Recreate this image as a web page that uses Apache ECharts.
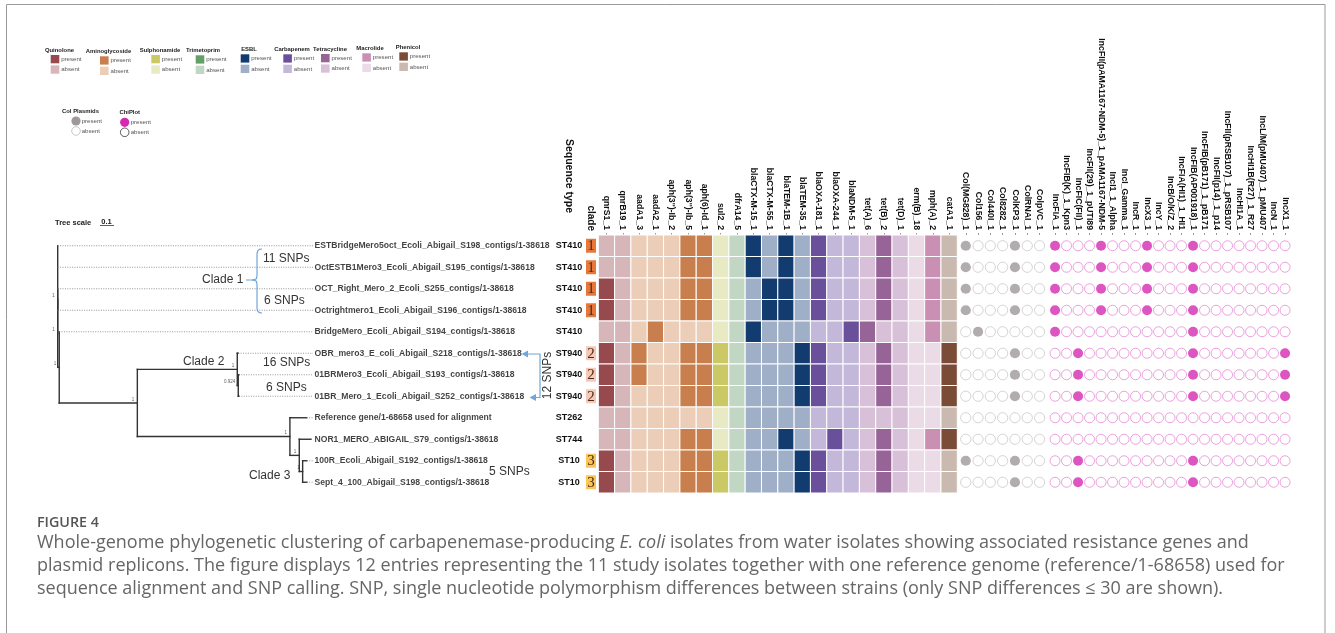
<!DOCTYPE html>
<html>
<head>
<meta charset="utf-8">
<script src="https://cdn.jsdelivr.net/npm/echarts@6/dist/echarts.min.js"></script>
<style>
  html, body { margin: 0; padding: 0; background: #fff; }
  #chart { width: 1335px; height: 633px; }
</style>
</head>
<body>
<div id="chart"></div>
<script>
// isolates, top to bottom as in the tree
const isolates = [
  "ESTBridgeMero5oct_Ecoli_Abigail_S198_contigs/1-38618",
  "OctESTB1Mero3_Ecoli_Abigail_S195_contigs/1-38618",
  "OCT_Right_Mero_2_Ecoli_S255_contigs/1-38618",
  "Octrightmero1_Ecoli_Abigail_S196_contigs/1-38618",
  "BridgeMero_Ecoli_Abigail_S194_contigs/1-38618",
  "OBR_mero3_E_coli_Abigail_S218_contigs/1-38618",
  "01BRMero3_Ecoli_Abigail_S193_contigs/1-38618",
  "01BR_Mero_1_Ecoli_Abigail_S252_contigs/1-38618",
  "Reference gene/1-68658 used for alignment",
  "NOR1_MERO_ABIGAIL_S79_contigs/1-38618",
  "100R_Ecoli_Abigail_S192_contigs/1-38618",
  "Sept_4_100_Abigail_S198_contigs/1-38618"
];
const seqTypes = ["ST410", "ST410", "ST410", "ST410", "ST410", "ST940", "ST940", "ST940", "ST262", "ST744", "ST10", "ST10"];
const clades = ["1", "1", "1", "1", "", "2", "2", "2", "", "", "3", "3"];
const cladeColors = { "1": "#e9773a", "2": "#f6c9b6", "3": "#fac65a" };

// tree: [id, depth, support, children] ; numbers in children are leaf rows
const treeNodes = [
  ["root", 0, "", [0, 1, "E"]],
  ["E", 0, "1", ["F", "D"]],
  ["F", 0, "1", [2, 3]],
  ["D", 0.011, "1", [4, "C"]],
  ["C", 0.569, "1", ["K2", "K3"]],
  ["K2", 1.283, "1", [5, "K2b"]],
  ["K2b", 1.29, "0.924", [6, 7]],
  ["K3", 1.659, "1", [8, "K3a"]],
  ["K3a", 1.726, "1", [9, "K3b"]],
  ["K3b", 1.75, "1", [10, 11]]
];
const leafDepth = [0, 0, 0, 0, 0.011, 1.29, 1.295, 1.295, 1.779, 1.81, 1.78, 1.78];
const alignDepth = 1.824;

const drugClasses = ["Quinolone", "Aminoglycoside", "Sulphonamide", "Trimetoprim", "ESBL", "Carbapenem", "Tetracycline", "Macrolide", "Phenicol"];
const presentColors = ["#974a4d", "#c97f4d", "#cbc866", "#62a068", "#123b70", "#6a509b", "#976497", "#c990b3", "#7a4b36"];
const absentColors = ["#d6b6b8", "#ebcdb8", "#e8eac4", "#c2d7c3", "#a0afc8", "#c3b8da", "#d8c1d8", "#eadbe6", "#c9b9af"];

const genes = ["qnrS1_1", "qnrB19_1", "aadA1_3", "aadA2_1", "aph(3'')-Ib_2", "aph(3'')-Ib_5", "aph(6)-Id_1", "sul2_2", "dfrA14_5",
  "blaCTX-M-15_1", "blaCTX-M-55_1", "blaTEM-1B_1", "blaTEM-35_1", "blaOXA-181_1", "blaOXA-244_1", "blaNDM-5_1",
  "tet(A)_6", "tet(B)_2", "tet(D)_1", "erm(B)_18", "mph(A)_2", "catA1_1"];
const geneClass = [0, 0, 1, 1, 1, 1, 1, 2, 3, 4, 4, 4, 4, 5, 5, 5, 6, 6, 6, 7, 7, 8];
const geneRows = [
  [0,0,0,0,0,1,1,0,0,1,0,1,0,1,0,0,0,1,0,0,1,0],
  [0,0,0,0,0,1,1,0,0,1,0,1,0,1,0,0,0,1,0,0,1,0],
  [1,0,0,0,0,1,1,0,0,0,1,1,0,1,0,0,0,1,0,0,1,0],
  [1,0,0,0,0,1,1,0,0,0,1,1,0,1,0,0,0,1,0,0,1,0],
  [0,0,0,1,0,0,0,0,0,1,0,0,0,0,0,1,1,0,0,0,1,0],
  [1,0,1,0,0,1,1,1,0,0,0,0,1,1,0,0,0,1,0,0,0,1],
  [1,0,1,0,0,1,1,1,0,0,0,0,1,1,0,0,0,1,0,0,0,1],
  [1,0,0,0,0,1,1,1,0,0,0,0,1,1,0,0,0,1,0,0,0,1],
  [0,0,0,0,0,0,0,0,0,0,0,0,0,0,0,0,0,0,0,0,0,0],
  [0,0,0,0,0,1,1,0,0,0,0,1,0,0,1,0,0,1,0,0,1,1],
  [1,0,0,0,0,1,1,1,0,0,0,0,1,1,0,0,0,1,0,0,0,0],
  [1,0,0,0,0,1,1,1,0,0,0,0,1,1,0,0,0,1,0,0,0,0]
];

const colPlasmids = ["Col(MG828)_1", "Col156_1", "Col440I_1", "Col8282_1", "ColKP3_1", "ColRNAI_1", "ColpVC_1"];
const colRows = [
  [1,0,0,0,1,0,0], [1,0,0,0,1,0,0], [1,0,0,0,1,0,0], [1,0,0,0,1,0,0],
  [0,1,0,0,0,0,0], [0,0,0,0,1,0,0], [0,0,0,0,1,0,0], [0,0,0,0,1,0,0],
  [0,0,0,0,0,0,0], [0,0,0,0,0,0,0], [1,0,0,0,1,0,0], [0,0,0,0,1,0,0]
];

const incPlasmids = ["IncFIA_1", "IncFIB(K)_1_Kpn3", "IncFIC(FII)_1", "IncFII(29)_1_pUTI89", "IncFII(pAMA1167-NDM-5)_1_pAMA1167-NDM-5",
  "IncI1_1_Alpha", "IncI_Gamma_1", "IncR_1", "IncX3_1", "IncY_1", "IncB/O/K/Z_2", "IncFIA(HI1)_1_HI1", "IncFIB(AP001918)_1",
  "IncFIB(pB171)_1_pB171", "IncFII(p14)_1_p14", "IncFII(pRSB107)_1_pRSB107", "IncHI1A_1", "IncHI1B(R27)_1_R27",
  "IncL/M(pMU407)_1_pMU407", "IncN_1", "IncX1_1"];
// indices of replicons present per isolate
const incPresent = [[0, 4, 8, 12], [0, 4, 8, 12], [0, 4, 8, 12], [0, 4, 8, 12], [0, 12],
  [2, 12, 20], [2, 12, 20], [2, 12, 20], [], [], [2, 12], [2, 12]];

const rowIdx = isolates.map((d, i) => i);
const FONT = "Liberation Sans";

// ---- tree geometry ----
const nodeMap = {};
treeNodes.forEach(n => { nodeMap[n[0]] = n; });
const nodeY = {};
function yOf(c) {
  if (typeof c === "number") return c;
  if (nodeY[c] !== undefined) return nodeY[c];
  const ch = nodeMap[c][3];
  nodeY[c] = (yOf(ch[0]) + yOf(ch[ch.length - 1])) / 2;
  return nodeY[c];
}
function depthOf(c) { return typeof c === "number" ? leafDepth[c] : nodeMap[c][1]; }
const treeSegs = [];
treeNodes.forEach(n => {
  const ch = n[3];
  treeSegs.push([n[1], yOf(ch[0]), n[1], yOf(ch[ch.length - 1]), 0]);
  ch.forEach(c => treeSegs.push([n[1], yOf(c), depthOf(c), yOf(c), 0]));
});
leafDepth.forEach((d, i) => { if (d < alignDepth) treeSegs.push([d, i, alignDepth, i, 1]); });
const supportData = treeNodes.filter(n => n[2]).map(n => ({ value: [n[1], yOf(n[0])], support: n[2] }));

// ---- cells ----
const heatData = [];
geneRows.forEach((r, i) => r.forEach((v, j) => heatData.push([j, i, v])));
const colData = [];
colRows.forEach((r, i) => r.forEach((v, j) => colData.push({
  value: [j, i],
  itemStyle: v ? { color: "#9e9898", borderWidth: 0 } : { color: "#fff", borderColor: "#c9c9c9", borderWidth: 1 }
})));
const incData = [];
incPresent.forEach((p, i) => incPlasmids.forEach((n, j) => {
  const v = p.indexOf(j) >= 0;
  incData.push({
    value: [j, i],
    itemStyle: v ? { color: "#d42ab2", borderWidth: 0 } : { color: "#fff", borderColor: "#e68ad6", borderWidth: 1 }
  });
}));

// ---- layout ----
const TOP = 235, H = 258;
const grids = [
  { left: 57.7, top: TOP, width: 255.3, height: H },
  { left: 556, top: TOP, width: 25, height: H },
  { left: 586, top: TOP, width: 10, height: H },
  { left: 598.3, top: TOP, width: 359, height: H },
  { left: 959.6, top: TOP, width: 86.1, height: H },
  { left: 1049.3, top: TOP, width: 241.5, height: H }
];
function catAxis(gi, data, margin, size) {
  return {
    type: "category", gridIndex: gi, data: data, position: "top",
    axisLine: { show: false },
    axisTick: { show: true, alignWithLabel: true, length: 2, lineStyle: { color: "#999" } },
    axisLabel: { rotate: 90, interval: 0, margin: margin, fontFamily: FONT, fontWeight: "bold", fontSize: size || 8.7, color: "#111" }
  };
}
const rowAxis = gi => ({ type: "category", gridIndex: gi, data: rowIdx, inverse: true, show: false });

// legend graphics
const legX = [50.7, 100, 151.3, 195.7, 240.7, 283.3, 321, 362.3, 399.3];
const legY = [55, 56.3, 55, 55.3, 54.3, 54.3, 54, 53.3, 52.3];
const legHead = [59.5, 108.5, 160, 203, 249, 292, 330, 370, 408];
const graphics = [];
const small = (x, y, t) => ({ type: "text", x: x, y: y, style: { text: t, fontFamily: FONT, fontSize: 6.1, fill: "#555", verticalAlign: "middle" } });
const head = (x, y, t) => ({ type: "text", x: x, y: y, style: { text: t, fontFamily: FONT, fontWeight: "bold", fontSize: 5.9, fill: "#222", align: "center", verticalAlign: "middle" } });
drugClasses.forEach((c, i) => {
  graphics.push(head(legHead[i], legY[i] - 5, c));
  graphics.push({ type: "rect", shape: { x: legX[i], y: legY[i], width: 8.6, height: 8.3 }, style: { fill: presentColors[i] } });
  graphics.push({ type: "rect", shape: { x: legX[i], y: legY[i] + 10.4, width: 8.6, height: 8.3 }, style: { fill: absentColors[i] } });
  graphics.push(small(legX[i] + 10.5, legY[i] + 4.2, "present"));
  graphics.push(small(legX[i] + 10.5, legY[i] + 14.6, "absent"));
});
graphics.push(head(80.5, 111.7, "Col Plasmids"));
graphics.push({ type: "circle", shape: { cx: 76, cy: 121, r: 4.6 }, style: { fill: "#9e9898" } });
graphics.push({ type: "circle", shape: { cx: 76, cy: 131, r: 4.3 }, style: { fill: "#fff", stroke: "#bbb", lineWidth: 0.8 } });
graphics.push(small(81.7, 121, "present"));
graphics.push(small(81.7, 131, "absent"));
graphics.push(head(129.7, 112.7, "ChiPlot"));
graphics.push({ type: "circle", shape: { cx: 124.7, cy: 122.3, r: 4.6 }, style: { fill: "#d42ab2" } });
graphics.push({ type: "circle", shape: { cx: 124.7, cy: 132.3, r: 4.3 }, style: { fill: "#fff", stroke: "#333", lineWidth: 0.8 } });
graphics.push(small(130.7, 122.3, "present"));
graphics.push(small(130.7, 132.3, "absent"));

// tree scale
graphics.push({ type: "text", x: 55, y: 222.5, style: { text: "Tree scale", fontFamily: FONT, fontWeight: "bold", fontSize: 7.5, fill: "#222", verticalAlign: "middle" } });
graphics.push({ type: "text", x: 106.5, y: 221.5, style: { text: "0.1", fontFamily: FONT, fontWeight: "bold", fontSize: 7.5, fill: "#222", align: "center", verticalAlign: "middle" } });
graphics.push({ type: "line", shape: { x1: 100, y1: 225.5, x2: 114, y2: 225.5 }, style: { stroke: "#333", lineWidth: 0.8 } });

// annotations
const BLUE = "#6fa7da";
const note = (x, y, t) => ({ type: "text", x: x, y: y, style: { text: t, fontFamily: FONT, fontSize: 12, fill: "#333", verticalAlign: "middle" } });
graphics.push(note(202, 280, "Clade 1"));
graphics.push(note(263, 259, "11 SNPs"));
graphics.push(note(264, 301, "6 SNPs"));
graphics.push(note(183, 362, "Clade 2"));
graphics.push(note(263, 363, "16 SNPs"));
graphics.push(note(266, 387.5, "6 SNPs"));
graphics.push(note(249, 476, "Clade 3"));
graphics.push(note(489, 471.5, "5 SNPs"));
const blueLine = pts => ({ type: "polyline", shape: { points: pts }, style: { stroke: BLUE, fill: null, lineWidth: 1.2 } });
graphics.push(blueLine([[262, 249], [259.5, 249.4], [257.7, 250.8], [257, 253.5], [257, 276], [256.4, 278.6], [254.5, 279.7], [252, 280], [246, 280]]));
graphics.push(blueLine([[252, 280], [254.5, 280.3], [256.4, 281.4], [257, 284], [257, 308.5], [257.7, 311.2], [259.5, 312.6], [262, 313]]));
graphics.push(blueLine([[527, 354], [540, 354], [540, 397.5], [535, 397.5]]));
graphics.push({ type: "polygon", shape: { points: [[521.5, 354], [528, 350.5], [528, 357.5]] }, style: { fill: BLUE } });
graphics.push({ type: "polygon", shape: { points: [[529.5, 397.5], [536, 394], [536, 401]] }, style: { fill: BLUE } });
graphics.push({ type: "text", x: 548, y: 375.5, rotation: Math.PI / 2, style: { text: "12 SNPs", fontFamily: FONT, fontSize: 12, fill: "#333", align: "center", verticalAlign: "middle" } });

// caption
const CAP = "Open Sans";
graphics.push({ type: "text", x: 37, y: 523, style: { text: "FIGURE 4", fontFamily: CAP, fontWeight: 600, fontSize: 14.3, fill: "#555", verticalAlign: "middle" } });
const capRich = { a: { fontFamily: CAP, fontSize: 18, fill: "#666" }, i: { fontFamily: CAP, fontSize: 18, fontStyle: "italic", fill: "#666" } };
graphics.push({ type: "text", x: 37, y: 543, style: { text: "{a|Whole-genome phylogenetic clustering of carbapenemase-producing }{i|E. coli}{a| isolates from water isolates showing associated resistance genes and}", rich: capRich, verticalAlign: "middle" } });
graphics.push({ type: "text", x: 37, y: 566, style: { text: "{a|plasmid replicons. The figure displays 12 entries representing the 11 study isolates together with one reference genome (reference/1-68658) used for}", rich: capRich, verticalAlign: "middle" } });
graphics.push({ type: "text", x: 37, y: 589, style: { text: "{a|sequence alignment and SNP calling. SNP, single nucleotide polymorphism differences between strains (only SNP differences \u2264 30 are shown).}", rich: capRich, verticalAlign: "middle" } });
// frame
graphics.push({ type: "rect", shape: { x: 6.5, y: 4.5, width: 1318.5, height: 640 }, style: { fill: null, stroke: "#9a9a9a", lineWidth: 1 } });

const chart = echarts.init(document.getElementById("chart"));
chart.setOption({
  animation: false,
  backgroundColor: "#fff",
  grid: grids,
  xAxis: [
    { type: "value", gridIndex: 0, min: 0, max: alignDepth, show: false },
    Object.assign(catAxis(1, ["Sequence type"], 22, 10.5), { axisTick: { show: false } }),
    Object.assign(catAxis(2, ["clade"], 4, 10), { axisTick: { show: false } }),
    catAxis(3, genes, 5),
    catAxis(4, colPlasmids, 5),
    catAxis(5, incPlasmids, 5)
  ],
  yAxis: [
    { type: "value", gridIndex: 0, min: -0.5, max: 11.5, inverse: true, show: false },
    rowAxis(1), rowAxis(2), rowAxis(3), rowAxis(4), rowAxis(5)
  ],
  graphic: graphics,
  series: [
    {
      type: "custom", xAxisIndex: 0, yAxisIndex: 0, clip: false, data: treeSegs,
      renderItem: (params, api) => {
        const a = api.coord([api.value(0), api.value(1)]);
        const b = api.coord([api.value(2), api.value(3)]);
        const dotted = api.value(4) === 1;
        return {
          type: "line", shape: { x1: a[0], y1: a[1], x2: b[0], y2: b[1] },
          style: dotted ? { stroke: "#8a8a8a", lineWidth: 0.9, lineDash: [1, 1.4] } : { stroke: "#333", lineWidth: 1.4, lineCap: "square" }
        };
      }
    },
    {
      // leaf names
      type: "scatter", xAxisIndex: 0, yAxisIndex: 0, symbolSize: 0, silent: true,
      data: isolates.map((n, i) => ({ value: [alignDepth, i], name: n })),
      label: { show: true, position: "right", distance: 1.5, formatter: p => p.name, fontFamily: FONT, fontWeight: "bold", fontSize: 8.6, color: "#111" }
    },
    {
      // bootstrap supports
      type: "scatter", xAxisIndex: 0, yAxisIndex: 0, symbolSize: 0, silent: true,
      data: supportData,
      label: { show: true, position: "left", distance: 3, offset: [0, -3.5], formatter: p => supportData[p.dataIndex].support, fontFamily: FONT, fontSize: 4.5, color: "#333" }
    },
    {
      type: "custom", xAxisIndex: 1, yAxisIndex: 1, data: seqTypes.map((s, i) => [0, i]),
      renderItem: (params, api) => {
        const p = api.coord([0, api.value(1)]);
        return { type: "text", x: p[0] + 0.5, y: p[1], style: { text: seqTypes[params.dataIndex], fontFamily: FONT, fontWeight: "bold", fontSize: 9, fill: "#111", align: "center", verticalAlign: "middle" } };
      }
    },
    {
      type: "custom", xAxisIndex: 2, yAxisIndex: 2, data: clades.map((c, i) => [0, i]),
      renderItem: (params, api) => {
        const c = clades[params.dataIndex];
        if (!c) return null;
        const p = api.coord([0, api.value(1)]);
        const s = api.size([1, 1]);
        return {
          type: "group", children: [
            { type: "rect", shape: { x: p[0] - s[0] / 2, y: p[1] - 7, width: s[0], height: 14 }, style: { fill: cladeColors[c] } },
            { type: "text", x: p[0], y: p[1] + 0.5, style: { text: c, fontFamily: "Liberation Serif", fontSize: 15, fill: "#4a2a1a", align: "center", verticalAlign: "middle" } }
          ]
        };
      }
    },
    {
      type: "custom", xAxisIndex: 3, yAxisIndex: 3, data: heatData,
      renderItem: (params, api) => {
        const j = api.value(0);
        const p = api.coord([j, api.value(1)]);
        const s = api.size([1, 1]);
        const cls = geneClass[j];
        return {
          type: "rect", shape: { x: p[0] - s[0] / 2, y: p[1] - s[1] / 2, width: s[0], height: s[1] },
          style: { fill: api.value(2) ? presentColors[cls] : absentColors[cls], stroke: "#fff", lineWidth: 1 }
        };
      }
    },
    { type: "scatter", xAxisIndex: 4, yAxisIndex: 4, symbolSize: 10.2, data: colData, silent: true },
    { type: "scatter", xAxisIndex: 5, yAxisIndex: 5, symbolSize: 10, data: incData, silent: true }
  ]
});
</script>
</body>
</html>
